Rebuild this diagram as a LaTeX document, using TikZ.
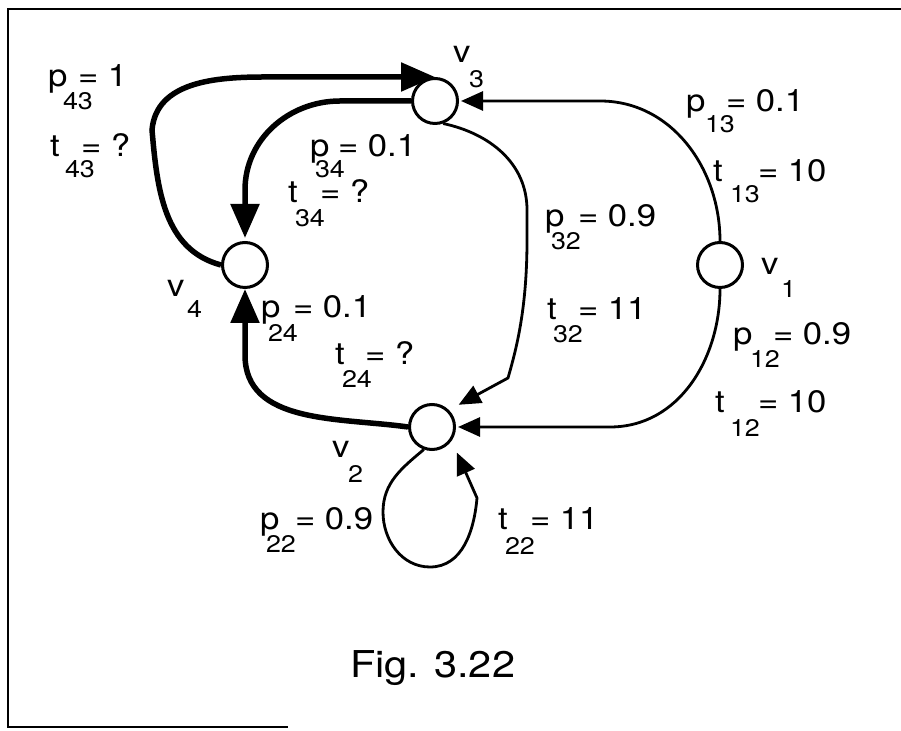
\documentclass[tikz,border=0pt]{standalone}
\usepackage{fontspec}
\setmainfont{TeX Gyre Heros}[FakeStretch=1.12]
\usetikzlibrary{arrows.meta}
\newcommand\mainsz{\fontsize{31}{31}\selectfont}
\newcommand\subsz{\fontsize{24}{24}\selectfont}
\newcommand\figsz{\fontsize{37}{37}\selectfont}
% \plab{letter}{sub}{value}{subx}{low}{eqx}
\newcommand\plab[6]{\mainsz\rlap{#1}\rlap{\kern#4pt\raisebox{-#5pt}{\subsz #2}}\kern#6pt=\ #3}
% \vlab{sub}{subx}{low}
\newcommand\vlab[3]{\mainsz\rlap{v}\kern#2pt\raisebox{-#3pt}{\subsz #1}}
\begin{document}
\begin{tikzpicture}[x=1pt,y=1pt,
  vert/.style={circle, draw, line width=3pt, minimum size=45pt, inner sep=0pt},
  thinedge/.style={line width=2.8pt, -{Triangle[length=22pt,width=19pt]}},
  thickedge/.style={line width=5.5pt, -{Triangle[length=34pt,width=28pt]}},
  lab/.style={anchor=base west, inner sep=0pt, outer sep=0pt}]
\useasboundingbox (0,0) rectangle (901,730);
\fill[white] (0,0) rectangle (901,730);
\draw[line width=2.6pt, line join=miter] (901,721) -- (8,721) -- (8,3) -- (288,3);

\node[vert] (v1) at (720,465) {};
\node[vert] (v2) at (432,303) {};
\node[vert] (v3) at (435,629) {};
\node[vert] (v4) at (245,465) {};

% thin edges
\draw[thinedge, shorten >=2pt] (v1.north) to[out=90,in=0] (600,629) -- (v3.east);
\draw[thinedge, shorten >=2pt] (v1.south) to[out=-90,in=0] (610,303) -- (v2.east);
\draw[thinedge, shorten >=11pt] (v3.-70) to[out=-12,in=90] (527,520) -- (527,490)
   .. controls (527,420) and (516,380) .. (508,352) -- (v2.45);
\draw[thinedge, shorten >=13pt] (v2.-110) to[out=-140,in=90] (383,218)
   to[out=-90,in=180] (430,163) to[out=0,in=-95] (477,232) -- (v2.-35);

% thick edges
\draw[thickedge] (v4.west) to[out=165,in=-85] (152,600) to[out=85,in=180] (265,653) -- (v3.north);
\draw[thickedge, shorten >=3pt] (v3.west) -- (340,629) to[out=180,in=90] (245,540) -- (v4.north);
\draw[thickedge] (v2.west) to[out=172,in=-90] (245,375) -- (v4.south);

% labels
\node[lab] (lp43) at (48,643) {\plab{p}{43}{1}{15}{23}{30}};
\node[lab] (lt43) at (50,573) {\plab{t}{43}{?}{15}{21}{31}};
\node[lab] (lp34) at (310,573) {\plab{p}{34}{0.1}{5}{21}{28}};
\node[lab] (lt34) at (288,527) {\plab{t}{34}{?}{7}{24}{32}};
\node[lab] (lp24) at (261,412) {\plab{p}{24}{0.1}{7}{24}{32}};
\node[lab] (lt24) at (335,365) {\plab{t}{24}{?}{7}{23}{30}};
\node[lab] (lv3) at (453,667) {\vlab{3}{16}{25}};
\node[lab] (lv4) at (167,433) {\vlab{4}{20}{21}};
\node[lab] (lv2) at (332,272) {\vlab{2}{16}{25}};
\node[lab] (lv1) at (761,455) {\vlab{1}{20}{23}};
\node[lab] (lp13) at (686,618) {\plab{p}{13}{0.1}{19}{21}{40}};
\node[lab] (lt13) at (713,548) {\plab{t}{13}{10}{17}{21}{45}};
\node[lab] (lp32) at (545,503) {\plab{p}{32}{0.9}{6}{23}{33}};
\node[lab] (lt32) at (547,410) {\plab{t}{32}{11}{6}{23}{31}};
\node[lab] (lp12) at (733,385) {\plab{p}{12}{0.9}{17}{23}{40}};
\node[lab] (lt12) at (715,317) {\plab{t}{12}{10}{15}{24}{43}};
\node[lab] (lp22) at (260,200) {\plab{p}{22}{0.9}{6}{23}{35}};
\node[lab] (lt22) at (498,200) {\plab{t}{22}{11}{7}{25}{32}};
\node[lab] (fig) at (350,52) {\figsz Fig. 3.22};
\end{tikzpicture}
\end{document}
